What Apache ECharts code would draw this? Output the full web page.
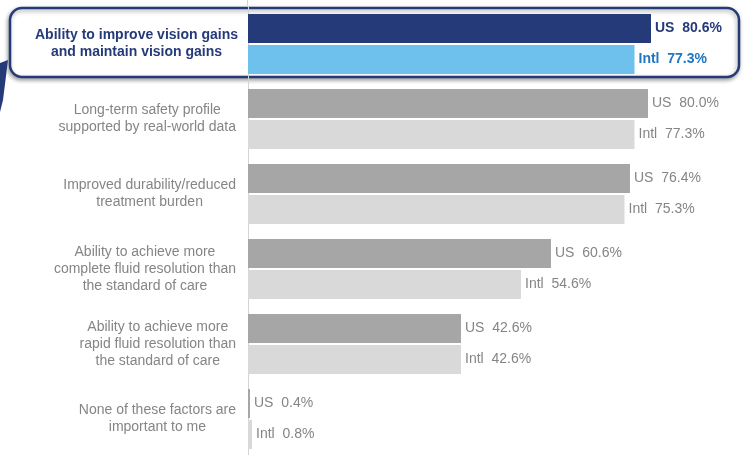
<!DOCTYPE html>
<html>
<head>
<meta charset="utf-8">
<script src="https://cdn.jsdelivr.net/npm/echarts@6/dist/echarts.min.js"></script>
<style>
  html, body { margin: 0; padding: 0; background: #fff; }
  #chart { width: 747px; height: 455px; }
</style>
</head>
<body>
<div id="chart"></div>
<script>
// Factors ranked by respondents, US vs international
const categories = [
  'Ability to improve vision gains\nand maintain vision gains',
  'Long-term safety profile\nsupported by real-world data',
  'Improved durability/reduced\ntreatment burden',
  'Ability to achieve more\ncomplete fluid resolution than\nthe standard of care',
  'Ability to achieve more\nrapid fluid resolution than\nthe standard of care',
  'None of these factors are\nimportant to me'
];
const usValues = [80.6, 80.0, 76.4, 60.6, 42.6, 0.4];
const intlValues = [77.3, 77.3, 75.3, 54.6, 42.6, 0.8];
const seriesNames = ['US', 'Intl'];

const NAVY = '#253a78';
const SKY = '#6ec1ec';
const BLUE_TEXT = '#1f76c2';
const GRAY_DARK = '#a6a6a6';
const GRAY_LIGHT = '#d9d9d9';
const GRAY_TEXT = '#858585';
const FONT = '"Liberation Sans", Arial, sans-serif';

const highlightIndex = 0;

function buildData(values, baseColor, hiColor, hiTextColor) {
  return values.map((v, i) => {
    if (i === highlightIndex) {
      return {
        value: v,
        itemStyle: { color: hiColor },
        label: { color: hiTextColor, fontWeight: 'bold' }
      };
    }
    return { value: v, itemStyle: { color: baseColor } };
  });
}

function valueLabel(prefix) {
  return {
    show: true,
    position: 'right',
    distance: 4,
    fontFamily: FONT,
    fontSize: 14,
    color: GRAY_TEXT,
    formatter: p => prefix + '  ' + Number(p.value).toFixed(1) + '%'
  };
}

const chart = echarts.init(document.getElementById('chart'), null, { renderer: 'canvas' });

chart.setOption({
  backgroundColor: '#ffffff',
  animation: false,
  graphic: [
    {
      type: 'rect',
      z: -5,
      shape: { x: 10, y: 8, width: 729, height: 69, r: 12 },
      style: {
        fill: '#ffffff',
        stroke: NAVY,
        lineWidth: 2.5,
        shadowBlur: 4,
        shadowOffsetX: -1,
        shadowOffsetY: 2,
        shadowColor: 'rgba(0,0,0,0.35)'
      }
    },
    {
      type: 'polygon',
      z: -5,
      shape: { points: [[0, 63], [8, 60], [3, 100], [0, 112]] },
      style: { fill: NAVY }
    },
    {
      type: 'line',
      z: -4,
      shape: { x1: 247.5, y1: 0, x2: 247.5, y2: 7 },
      style: { stroke: '#d4d4d4', lineWidth: 1 }
    }
  ],
  grid: {
    left: 248,
    right: -1,
    top: 6.5,
    bottom: -1.5,
    containLabel: false,
    outerBoundsMode: 'none'
  },
  xAxis: {
    type: 'value',
    min: 0,
    max: 100,
    show: false
  },
  yAxis: {
    type: 'category',
    inverse: true,
    data: categories,
    axisLine: { show: true, lineStyle: { color: '#d4d4d4', width: 1 } },
    axisTick: { show: false },
    splitLine: { show: false },
    axisLabel: {
      margin: 12,
      align: 'right',
      verticalAlign: 'middle',
      interval: 0,
      formatter: (val, idx) => {
        const key = idx === highlightIndex ? 'h' : 'c';
        return val.split('\n').map(l => '{' + key + '|' + l + '}').join('\n');
      },
      rich: {
        c: { align: 'center', color: GRAY_TEXT, fontSize: 14, lineHeight: 17, fontFamily: FONT },
        h: { align: 'center', color: NAVY, fontSize: 14, lineHeight: 17, fontFamily: FONT, fontWeight: 'bold', padding: [0, -2, 0, 0] }
      }
    }
  },
  series: [
    {
      name: seriesNames[0],
      type: 'bar',
      barWidth: 29,
      barGap: '7%',
      data: buildData(usValues, GRAY_DARK, NAVY, NAVY),
      label: valueLabel(seriesNames[0])
    },
    {
      name: seriesNames[1],
      type: 'bar',
      barWidth: 29,
      barGap: '7%',
      data: buildData(intlValues, GRAY_LIGHT, SKY, BLUE_TEXT),
      label: valueLabel(seriesNames[1])
    }
  ]
});
</script>
</body>
</html>
